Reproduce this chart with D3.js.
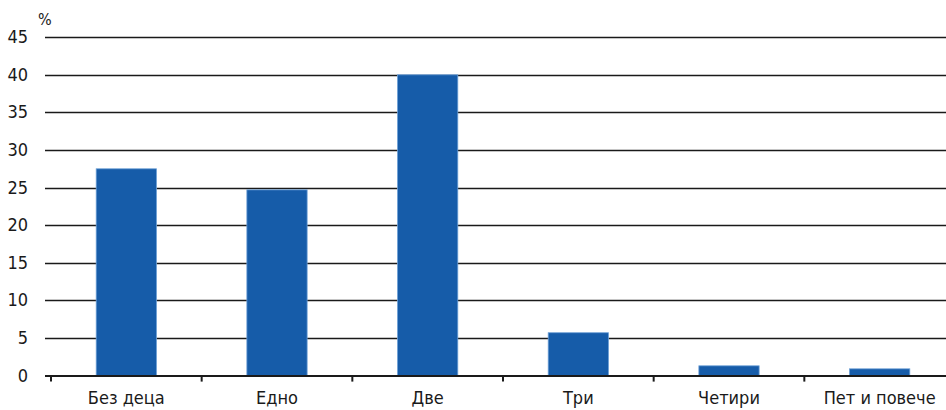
<!DOCTYPE html>
<html><head><meta charset="utf-8">
<script src="https://cdn.jsdelivr.net/npm/d3@7"></script>
<style>body{margin:0;background:#fff}svg text{font-family:"Liberation Sans Narrow","DejaVu Sans Condensed",sans-serif;fill:#1a1a1a}</style>
</head><body><svg id="c" width="946" height="410"></svg>
<script>
const categories = ["Без деца","Едно","Две","Три","Четири","Пет и повече"];
const values = [27.5, 24.7, 40.0, 5.7, 1.3, 0.9];
const yTicks = [0,5,10,15,20,25,30,35,40,45];
const yUnit = "%";

const svg = d3.select("#c");
const x = d3.scaleBand().domain(categories).range([51, 955]).paddingInner(0.6).paddingOuter(0.3);
const xb = d3.scaleBand().domain(categories).range([51, 955]);
const y = d3.scaleLinear().domain([0,45]).range([375.6, 37.2]);

svg.append("g").selectAll("line").data(yTicks.filter(d=>d>0)).join("line")
  .attr("x1",45).attr("x2",946).attr("y1",d=>Math.round(y(d))+0.5).attr("y2",d=>Math.round(y(d))+0.5)
  .attr("stroke","#1a1a1a").attr("stroke-width",1.3);

svg.append("g").selectAll("rect").data(values).join("rect")
  .attr("x",(d,i)=>x(categories[i])).attr("width",x.bandwidth())
  .attr("y",d=>y(d)).attr("height",d=>y(0)-y(d))
  .attr("fill","#165ca9").attr("stroke","#6c9fd6").attr("stroke-width",0.8);

// x axis
svg.append("line").attr("x1",45).attr("x2",946).attr("y1",y(0)+0.5).attr("y2",y(0)+0.5)
  .attr("stroke","#1a1a1a").attr("stroke-width",2);
const tickPos = categories.map(c=>xb(c)).concat([xb.range()[1]]);
svg.append("g").selectAll("line").data(tickPos).join("line")
  .attr("x1",d=>d).attr("x2",d=>d).attr("y1",y(0)).attr("y2",y(0)+6)
  .attr("stroke","#1a1a1a").attr("stroke-width",2);

svg.append("g").selectAll("text").data(categories).join("text")
  .attr("x",d=>xb(d)+xb.bandwidth()/2).attr("y",404)
  .attr("text-anchor","middle").attr("font-size",18).text(d=>d);

svg.append("g").selectAll("text").data(yTicks).join("text")
  .attr("x",28).attr("y",d=>y(d)+6).attr("text-anchor","end").attr("font-size",18).text(d=>d);

svg.append("text").attr("x",38).attr("y",25).attr("font-size",16).text(yUnit);
</script></body></html>
